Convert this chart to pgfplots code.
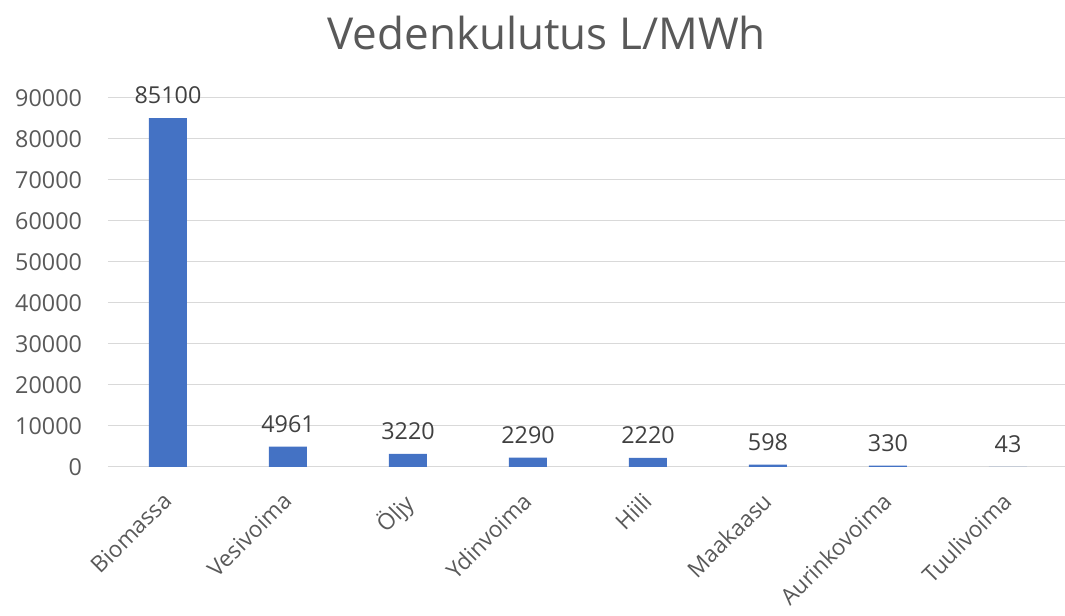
\documentclass[border=0pt]{standalone}
\usepackage{pgfplots}
\pgfplotsset{compat=1.18}
\usepackage{fontspec}
\setmainfont{Open Sans}
\definecolor{barblue}{HTML}{4472C4}
\definecolor{txtgray}{HTML}{595959}
\definecolor{gridgray}{HTML}{D9D9D9}
\begin{document}
\begin{tikzpicture}[x=1pt,y=1pt]
\useasboundingbox (0,0) rectangle (798.75,462);
\node[font=\fontsize{33}{33}\selectfont, text=txtgray] at (410pt,437pt) {Vedenkulutus L/MWh};
\begin{axis}[
  at={(81pt,111.75pt)}, anchor=south west,
  scale only axis,
  width=720pt, height=276.75pt,
  xmin=-0.5, xmax=7.5,
  ymin=0, ymax=90000,
  ytick={0,10000,...,90000},
  xtick={0,...,7},
  xticklabels={Biomassa,Vesivoima,Öljy,Ydinvoima,Hiili,Maakaasu,Aurinkovoima,Tuulivoima},
  x tick label style={xshift=-5pt, yshift=-13pt, rotate=45, anchor=north east, font=\fontsize{17}{17}\selectfont, text=txtgray},
  y tick label style={font=\fontsize{17.5}{17.5}\selectfont, text=txtgray, xshift=-16pt},
  /pgf/number format/assume math mode=true,
  scaled y ticks=false,
  yticklabel={\pgfmathprintnumber[fixed,1000 sep={}]{\tick}},
  ymajorgrids, grid style={gridgray, line width=0.75pt},
  axis x line*=bottom, axis y line*=left,
  x axis line style={gridgray, line width=0.75pt, -},
  y axis line style={draw=none},
  major tick length=0pt,
  tick style={draw=none},
  clip=false,
]
\addplot[ybar, bar width=28.5pt, fill=barblue, draw=none,
  nodes near coords,
  nodes near coords style={font=\fontsize{17.5}{17.5}\selectfont, text=black!75, yshift=7pt},
  point meta=explicit symbolic]
  coordinates {(0,85100)[85100] (1,4961)[4961] (2,3220)[3220] (3,2290)[2290] (4,2220)[2220] (5,598)[598] (6,330)[330] (7,43)[43]};
\end{axis}
\end{tikzpicture}
\end{document}
